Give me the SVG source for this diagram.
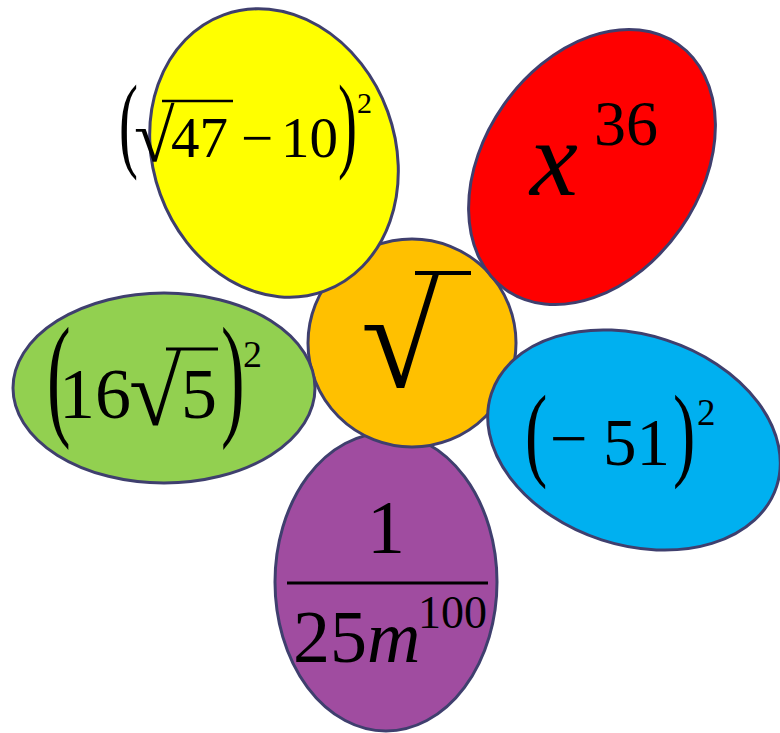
<svg xmlns="http://www.w3.org/2000/svg" width="780" height="733" viewBox="0 0 780 733">
<style>
.p{stroke:#3f3f6e;stroke-width:3}
.t{font-family:"Liberation Serif","Times New Roman",serif;fill:#000}
.i{font-style:italic}
.bar{stroke:#000;stroke-width:3}
</style>
<rect width="780" height="733" fill="#fff"/>
<g id="connectors"/>
<g id="purple">
<ellipse class="p" cx="386" cy="582" rx="111" ry="149" fill="#a04ca0"/>
<text class="t" x="386" y="553" font-size="76" text-anchor="middle">1</text>
<line class="bar" x1="287" y1="583" x2="488" y2="583"/>
<text class="t" x="293" y="662" font-size="74">25<tspan class="i">m</tspan></text>
<text class="t" x="418" y="628" font-size="46">100</text>
</g>
<g id="center">
<circle class="p" cx="412" cy="343" r="104" fill="#ffc000"/>
<text class="t" x="361" y="387" font-size="142">√</text>
<line x1="415" y1="273" x2="471" y2="273" stroke="#000" stroke-width="4"/>
</g>
<g id="yellow">
<ellipse class="p" cx="274" cy="153" rx="121" ry="147" fill="#ffff00" transform="rotate(-20 274 153)"/>
<text class="t" font-size="57" transform="translate(119 158) scale(1 1.85)">(</text>
<text class="t" x="134" y="161" font-size="74">√</text>
<line x1="162" y1="101" x2="233" y2="101" stroke="#000" stroke-width="2.5"/>
<text class="t" x="171" y="157" font-size="57">47</text>
<text class="t" x="241" y="157" font-size="57">−</text>
<text class="t" x="281" y="157" font-size="57">10</text>
<text class="t" font-size="57" transform="translate(338 158) scale(1 1.85)">)</text>
<text class="t" x="357" y="113" font-size="30">2</text>
</g>
<g id="red">
<ellipse class="p" cx="592" cy="167" rx="108" ry="150" fill="#ff0000" transform="rotate(35 592 167)"/>
<text class="t i" x="530" y="195" font-size="108">x</text>
<text class="t" x="594" y="145" font-size="64">36</text>
</g>
<g id="blue">
<ellipse class="p" cx="634" cy="440" rx="150" ry="105" fill="#00b0f0" transform="rotate(18 634 440)"/>
<text class="t" font-size="67" transform="translate(525 467) scale(1 1.55)">(</text>
<text class="t" x="550" y="461" font-size="67">−</text>
<text class="t" x="603" y="465" font-size="67">51</text>
<text class="t" font-size="67" transform="translate(673 467) scale(1 1.55)">)</text>
<text class="t" x="697" y="425" font-size="37">2</text>
</g>
<g id="green">
<ellipse class="p" cx="164" cy="388" rx="151" ry="95" fill="#92d050"/>
<text class="t" font-size="71" transform="translate(47 421) scale(1 1.9)">(</text>
<text class="t" x="59" y="418" font-size="72">16</text>
<text class="t" x="129" y="425" font-size="95">√</text>
<line x1="166" y1="349" x2="218" y2="349" stroke="#000" stroke-width="3"/>
<text class="t" x="181" y="418" font-size="72">5</text>
<text class="t" font-size="71" transform="translate(221 421) scale(1 1.9)">)</text>
<text class="t" x="243" y="367" font-size="38">2</text>
</g>
</svg>
